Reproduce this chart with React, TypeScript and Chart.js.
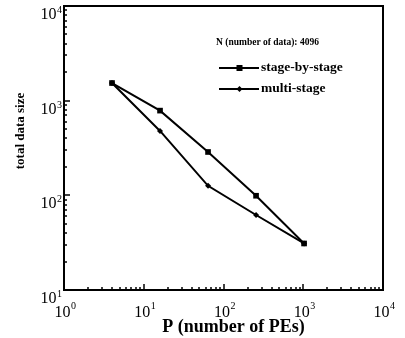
import React, { useEffect, useRef } from "react";
import { Chart, registerables } from "chart.js";
Chart.register(...registerables);

const procs = [4, 16, 64, 256, 1024];
const stageByStage = [1536, 785, 287, 99, 31];
const multiStage = [1536, 479, 126, 62, 31];
const xTickExponents = [0, 1, 2, 3, 4];
const yTickExponents = [1, 2, 3, 4];
const seriesNames = ["stage-by-stage", "multi-stage"];
const noteText = "N (number of data): 4096";
const xTitle = "P (number of PEs)";
const yTitle = "total data size";

const FONT = "'Liberation Serif', 'DejaVu Serif', serif";

const decorPlugin = {
  id: "decor",
  afterDraw(chart: any) {
    const ctx = chart.ctx as CanvasRenderingContext2D;
    const { left, top, right, bottom } = chart.chartArea;
    const xs = chart.scales.x;
    const ys = chart.scales.y;
    ctx.save();
    ctx.strokeStyle = "#000";
    ctx.fillStyle = "#000";
    // box
    ctx.lineWidth = 2;
    ctx.strokeRect(left, top, right - left, bottom - top);
    // inside ticks
    ctx.lineWidth = 1.5;
    for (let d = xTickExponents[0]; d < xTickExponents[xTickExponents.length - 1]; d++) {
      for (let m = 1; m <= 9; m++) {
        const px = Math.round(xs.getPixelForValue(m * Math.pow(10, d)));
        const len = m === 1 ? 6 : 3;
        ctx.beginPath();
        ctx.moveTo(px, bottom);
        ctx.lineTo(px, bottom - len);
        ctx.stroke();
      }
    }
    for (let d = yTickExponents[0]; d < yTickExponents[yTickExponents.length - 1]; d++) {
      for (let m = 1; m <= 9; m++) {
        const py = Math.round(ys.getPixelForValue(m * Math.pow(10, d)));
        const len = m === 1 ? 6 : 3;
        ctx.beginPath();
        ctx.moveTo(left, py);
        ctx.lineTo(left + len, py);
        ctx.stroke();
      }
    }
    // tick labels
    const bigFont = `16px ${FONT}`;
    const supFont = `10px ${FONT}`;
    ctx.textBaseline = "alphabetic";
    ctx.textAlign = "left";
    for (const e of xTickExponents) {
      const px = xs.getPixelForValue(Math.pow(10, e));
      ctx.font = bigFont;
      const w1 = ctx.measureText("10").width;
      ctx.font = supFont;
      const w2 = ctx.measureText(String(e)).width;
      const x0 = px - (w1 + w2) / 2 + 1;
      ctx.font = bigFont;
      ctx.fillText("10", x0, 317);
      ctx.font = supFont;
      ctx.fillText(String(e), x0 + w1 + 0.5, 309);
    }
    for (const e of yTickExponents) {
      const py = ys.getPixelForValue(Math.pow(10, e));
      ctx.font = supFont;
      const w2 = ctx.measureText(String(e)).width;
      ctx.font = bigFont;
      const w1 = ctx.measureText("10").width;
      const xEnd = left - 2;
      ctx.fillText("10", xEnd - w2 - w1 - 0.5, py + 13);
      ctx.font = supFont;
      ctx.fillText(String(e), xEnd - w2, py + 7);
    }
    // axis titles
    ctx.font = `bold 18px ${FONT}`;
    ctx.textAlign = "center";
    ctx.textBaseline = "middle";
    ctx.fillText(xTitle, (left + right) / 2 + 10, 327);
    ctx.save();
    ctx.translate(21, 131);
    ctx.rotate(-Math.PI / 2);
    ctx.font = `bold 13px ${FONT}`;
    ctx.fillText(yTitle, 0, 0);
    ctx.restore();
    // note
    ctx.textAlign = "left";
    ctx.font = `bold 9.5px ${FONT}`;
    ctx.fillText(noteText, 216, 43);
    // legend
    const rows = [68, 89];
    ctx.font = `bold 13.5px ${FONT}`;
    rows.forEach((y, i) => {
      ctx.lineWidth = 2;
      ctx.beginPath();
      ctx.moveTo(219, y);
      ctx.lineTo(259, y);
      ctx.stroke();
      if (i === 0) {
        ctx.fillRect(236.5, y - 3, 6, 6);
      } else {
        ctx.beginPath();
        ctx.moveTo(239.5, y - 3);
        ctx.lineTo(242.5, y);
        ctx.lineTo(239.5, y + 3);
        ctx.lineTo(236.5, y);
        ctx.closePath();
        ctx.fill();
      }
      ctx.fillText(seriesNames[i], 261, y);
    });
    ctx.restore();
  },
};

export default function App() {
  const ref = useRef<HTMLCanvasElement | null>(null);
  useEffect(() => {
    document.body.style.margin = "0";
    const canvas = ref.current!;
    const chart = new Chart(canvas, {
      type: "line",
      data: {
        datasets: [
          {
            label: seriesNames[0],
            data: procs.map((p, i) => ({ x: p, y: stageByStage[i] })),
            borderColor: "#000",
            backgroundColor: "#000",
            borderWidth: 2,
            pointStyle: "rect",
            pointRadius: 4,
            pointBorderWidth: 0,
            tension: 0,
          },
          {
            label: seriesNames[1],
            data: procs.map((p, i) => ({ x: p, y: multiStage[i] })),
            borderColor: "#000",
            backgroundColor: "#000",
            borderWidth: 2,
            pointStyle: "rectRot",
            pointRadius: 3,
            pointBorderWidth: 0,
            tension: 0,
          },
        ],
      },
      options: {
        animation: false,
        responsive: false,
        devicePixelRatio: 1,
        layout: { padding: { top: 6, right: 22, left: 0, bottom: 0 } },
        plugins: { legend: { display: false }, tooltip: { enabled: false } },
        scales: {
          x: {
            type: "logarithmic",
            min: 1,
            max: 10000,
            grid: { display: false },
            border: { display: false },
            ticks: { display: false },
            afterFit: (s: any) => {
              s.height = 48;
            },
          },
          y: {
            type: "logarithmic",
            min: 10,
            max: 10000,
            grid: { display: false },
            border: { display: false },
            ticks: { display: false },
            afterFit: (s: any) => {
              s.width = 64;
            },
          },
        },
      },
      plugins: [decorPlugin],
    } as any);
    return () => chart.destroy();
  }, []);
  return (
    <canvas
      ref={ref}
      width={405}
      height={338}
      style={{ display: "block", width: 405, height: 338 }}
    />
  );
}
